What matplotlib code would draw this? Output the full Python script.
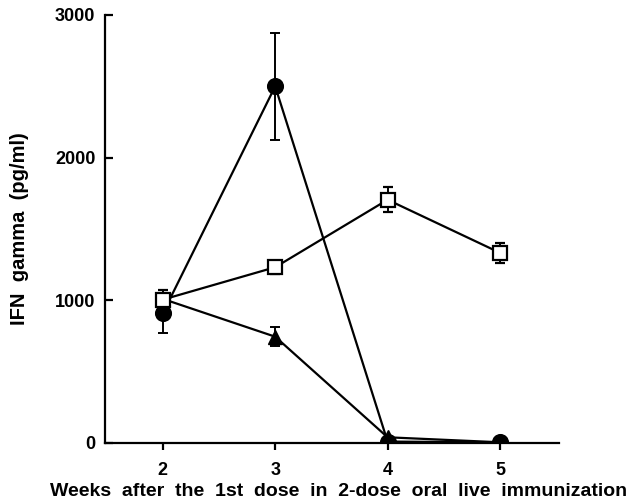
import matplotlib.pyplot as plt

weeks = [2, 3, 4, 5]

# filled circles
circle_mean = [909, 2500, 10, 5]
circle_err = [140, 375, 0, 0]

# open squares
square_mean = [1005, 1232, 1705, 1333]
square_err = [65, 45, 88, 70]

# filled triangles
triangle_mean = [1010, 745, 40, 5]
triangle_err = [40, 65, 0, 0]

# wide word spacing as in the original figure
xlabel_text = "Weeks  after  the  1st  dose  in  2-dose  oral  live  immunization"
ylabel_text = "IFN  gamma  (pg/ml)"

plt.rcParams["font.family"] = ["Liberation Sans", "DejaVu Sans"]
plt.rcParams["font.weight"] = "bold"

fig = plt.figure(figsize=(6.42, 5.03), dpi=100)
ax = fig.add_axes([0.1636, 0.1193, 0.7071, 0.8509])

style = dict(color="black", linewidth=1.6, elinewidth=1.4, capsize=3.3, capthick=1.4)
ax.errorbar(weeks, triangle_mean, yerr=triangle_err, marker="^", markersize=10,
            markerfacecolor="black", zorder=3, **style)
ax.errorbar(weeks, circle_mean, yerr=circle_err, marker="o", markersize=11.3,
            markerfacecolor="black", zorder=4, **style)
ax.errorbar(weeks, square_mean, yerr=square_err, marker="s", markersize=9.5,
            markerfacecolor="white", markeredgewidth=1.6, zorder=5, **style)

ax.set_xlim(1.486, 5.525)
ax.set_ylim(0, 3000)
ax.set_xticks(weeks)
ax.set_yticks([0, 1000, 2000, 3000])
ax.spines["top"].set_visible(False)
ax.spines["right"].set_visible(False)
ax.spines["left"].set_linewidth(1.6)
ax.spines["bottom"].set_linewidth(1.6)
ax.tick_params(axis="x", direction="out", length=5, width=1.6, labelsize=13, pad=9)
ax.tick_params(axis="y", direction="in", length=6, width=1.6, labelsize=13, pad=7)
for lbl in ax.get_xticklabels() + ax.get_yticklabels():
    lbl.set_fontweight("bold")

ax.set_ylabel(ylabel_text, fontsize=14.5, fontweight="bold")
ax.yaxis.set_label_coords(-0.168, 0.5, transform=ax.transAxes)
ax.set_xlabel(xlabel_text, fontsize=14, fontweight="bold")
ax.xaxis.set_label_coords(0.514, -0.093, transform=ax.transAxes)

fig.savefig("out.png", dpi=100)
